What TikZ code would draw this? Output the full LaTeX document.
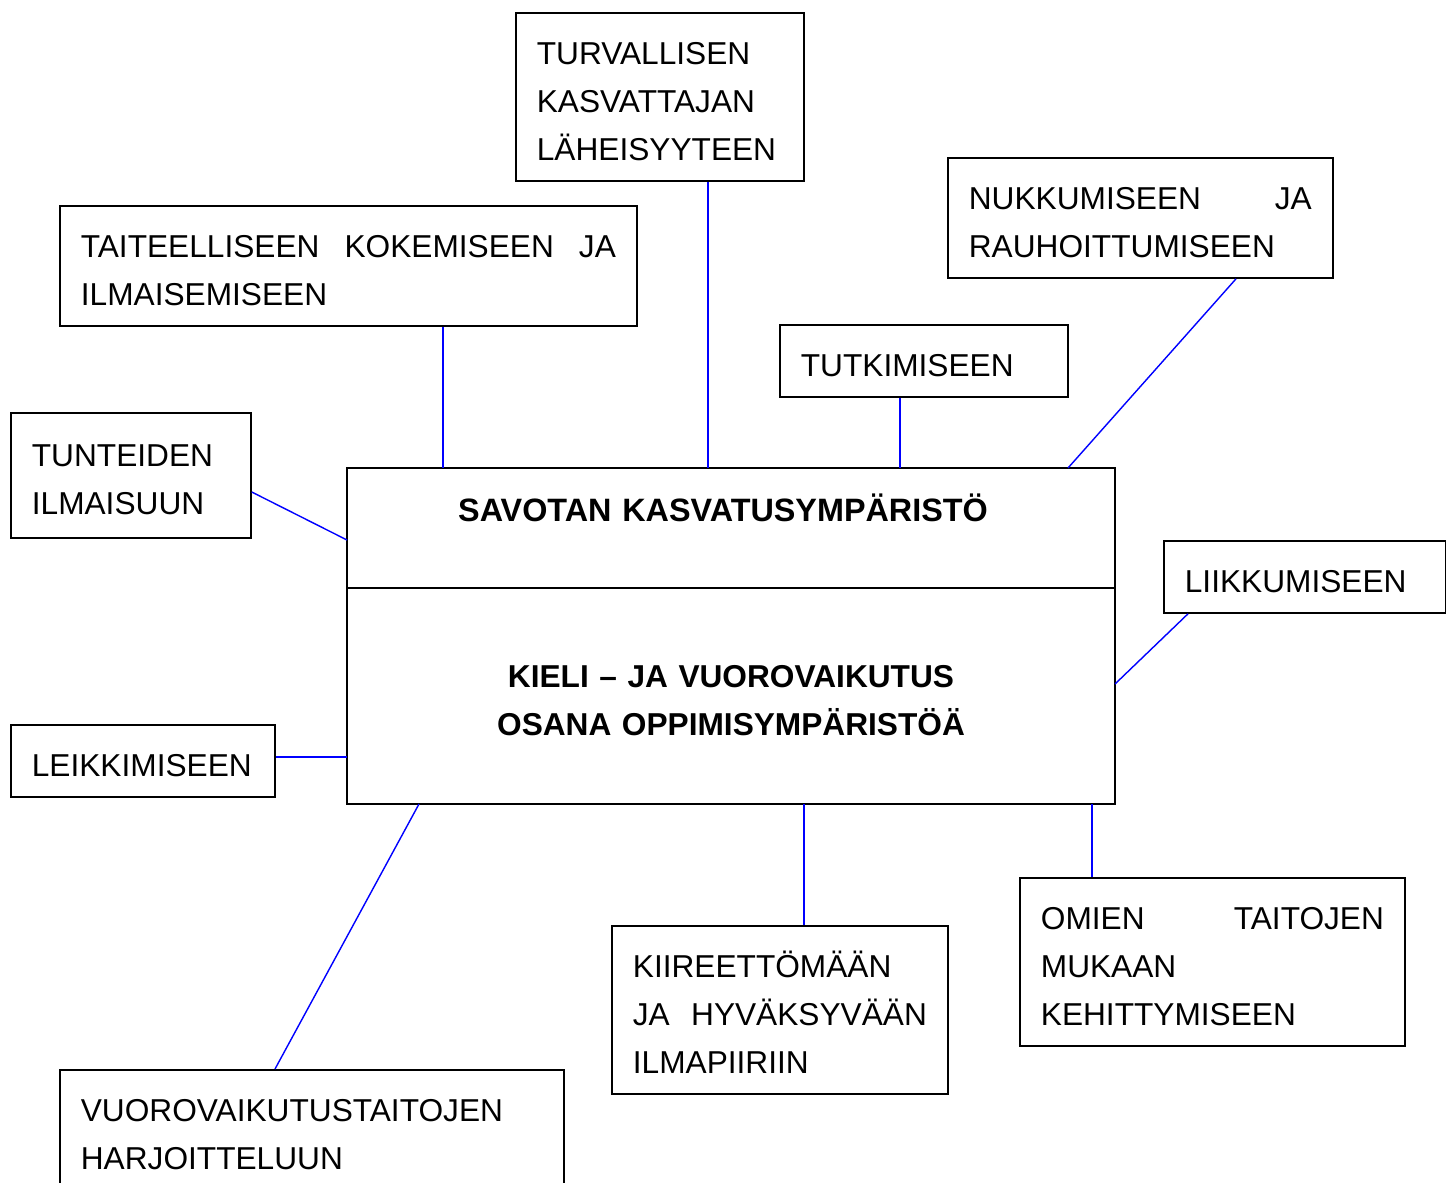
\documentclass[tikz,border=0pt]{standalone}
\usepackage{fontspec}
\setmainfont{Liberation Sans}
\usetikzlibrary{positioning, calc}
\newlength\pixel
\setlength\pixel{0.01cm}
\newcommand\bstrut{\rule[-0.18\baselineskip]{0pt}{\baselineskip}}
\hyphenpenalty=10000
\exhyphenpenalty=10000

\begin{document}
\begin{tikzpicture}[x=0.01cm, y=-0.01cm,
    box/.style 2 args={draw, line width=0.5pt, anchor=north west, inner xsep=21\pixel, inner ysep=12\pixel,
        text width=#1\pixel, minimum height=#2\pixel, align=left, font=\fontsize{9}{13.66}\selectfont,
        execute at begin node=\bstrut, execute at end node=\bstrut},
    hub/.style={draw, line width=0.6pt, outer sep=0pt, inner xsep=21\pixel, inner ysep=0pt, text width=726\pixel,
        align=center, font=\fontsize{9}{13.66}\selectfont\bfseries},
    link/.style={blue, line width=0.4pt}]
    \useasboundingbox (0,0) rectangle (1446,1182);

    \node[box={246}{168}] (tur) at (515,12) {TURVALLISEN\\KASVATTAJAN\\LÄHEISYYTEEN};
    \node[box={535}{119}] (tai) at (59,205) {TAITEELLISEEN\hfill KOKEMISEEN\hfill JA\\ILMAISEMISEEN};
    \node[box={343}{119}] (nuk) at (947,157) {NUKKUMISEEN\hfill JA\\RAUHOITTUMISEEN};
    \node[box={246}{72}] (tut) at (779,324) {TUTKIMISEEN};
    \node[box={198}{125}] (tun) at (10,412) {TUNTEIDEN\\ILMAISUUN};

    \node[hub, anchor=north west, text height=53\pixel, text depth=67\pixel, font=\fontsize{9.2}{13.66}\selectfont\bfseries] (sav) at (347,468) {\hspace*{-16\pixel}SAVOTAN KASVATUSYMPÄRISTÖ};
    \node[hub, minimum height=216\pixel, below=0pt of sav, execute at begin node=\bstrut, execute at end node=\bstrut] (kie) {KIELI -- JA VUOROVAIKUTUS\\OSANA OPPIMISYMPÄRISTÖÄ};

    \node[box={240}{72}] (lii) at (1163,540) {LIIKKUMISEEN};
    \node[box={222}{72}] (lei) at (10,724) {LEIKKIMISEEN};
    \node[box={343}{167}] (omi) at (1019,877) {OMIEN\hfill TAITOJEN\\MUKAAN\\KEHITTYMISEEN};
    \node[box={294}{167}] (kii) at (611,925) {KIIREETTÖMÄÄN\\JA\hfill HYVÄKSYVÄÄN\\ILMAPIIRIIN};
    \node[box={462}{120}] (vuo) at (59,1069) {VUOROVAIKUTUSTAITOJEN\\HARJOITTELUUN};

    \draw[link] (tai.south -| 443,0) -- (sav.north -| 443,0);
    \draw[link] (tur.south -| 708,0) -- (sav.north -| 708,0);
    \draw[link] (tut.south -| 900,0) -- (sav.north -| 900,0);
    \draw[link] (nuk.south -| 1236,0) -- (sav.north -| 1068,0);
    \draw[link] (tun.east |- 0,492) -- (sav.west |- 0,540);
    \draw[link] (lii.south -| 1188,0) -- (kie.east |- 0,684);
    \draw[link] (lei.east |- 0,757) -- (kie.west |- 0,757);
    \draw[link] (kie.south -| 419,0) -- (vuo.north -| 275,0);
    \draw[link] (kie.south -| 804,0) -- (kii.north -| 804,0);
    \draw[link] (kie.south -| 1092,0) -- (omi.north -| 1092,0);
\end{tikzpicture}
\end{document}
